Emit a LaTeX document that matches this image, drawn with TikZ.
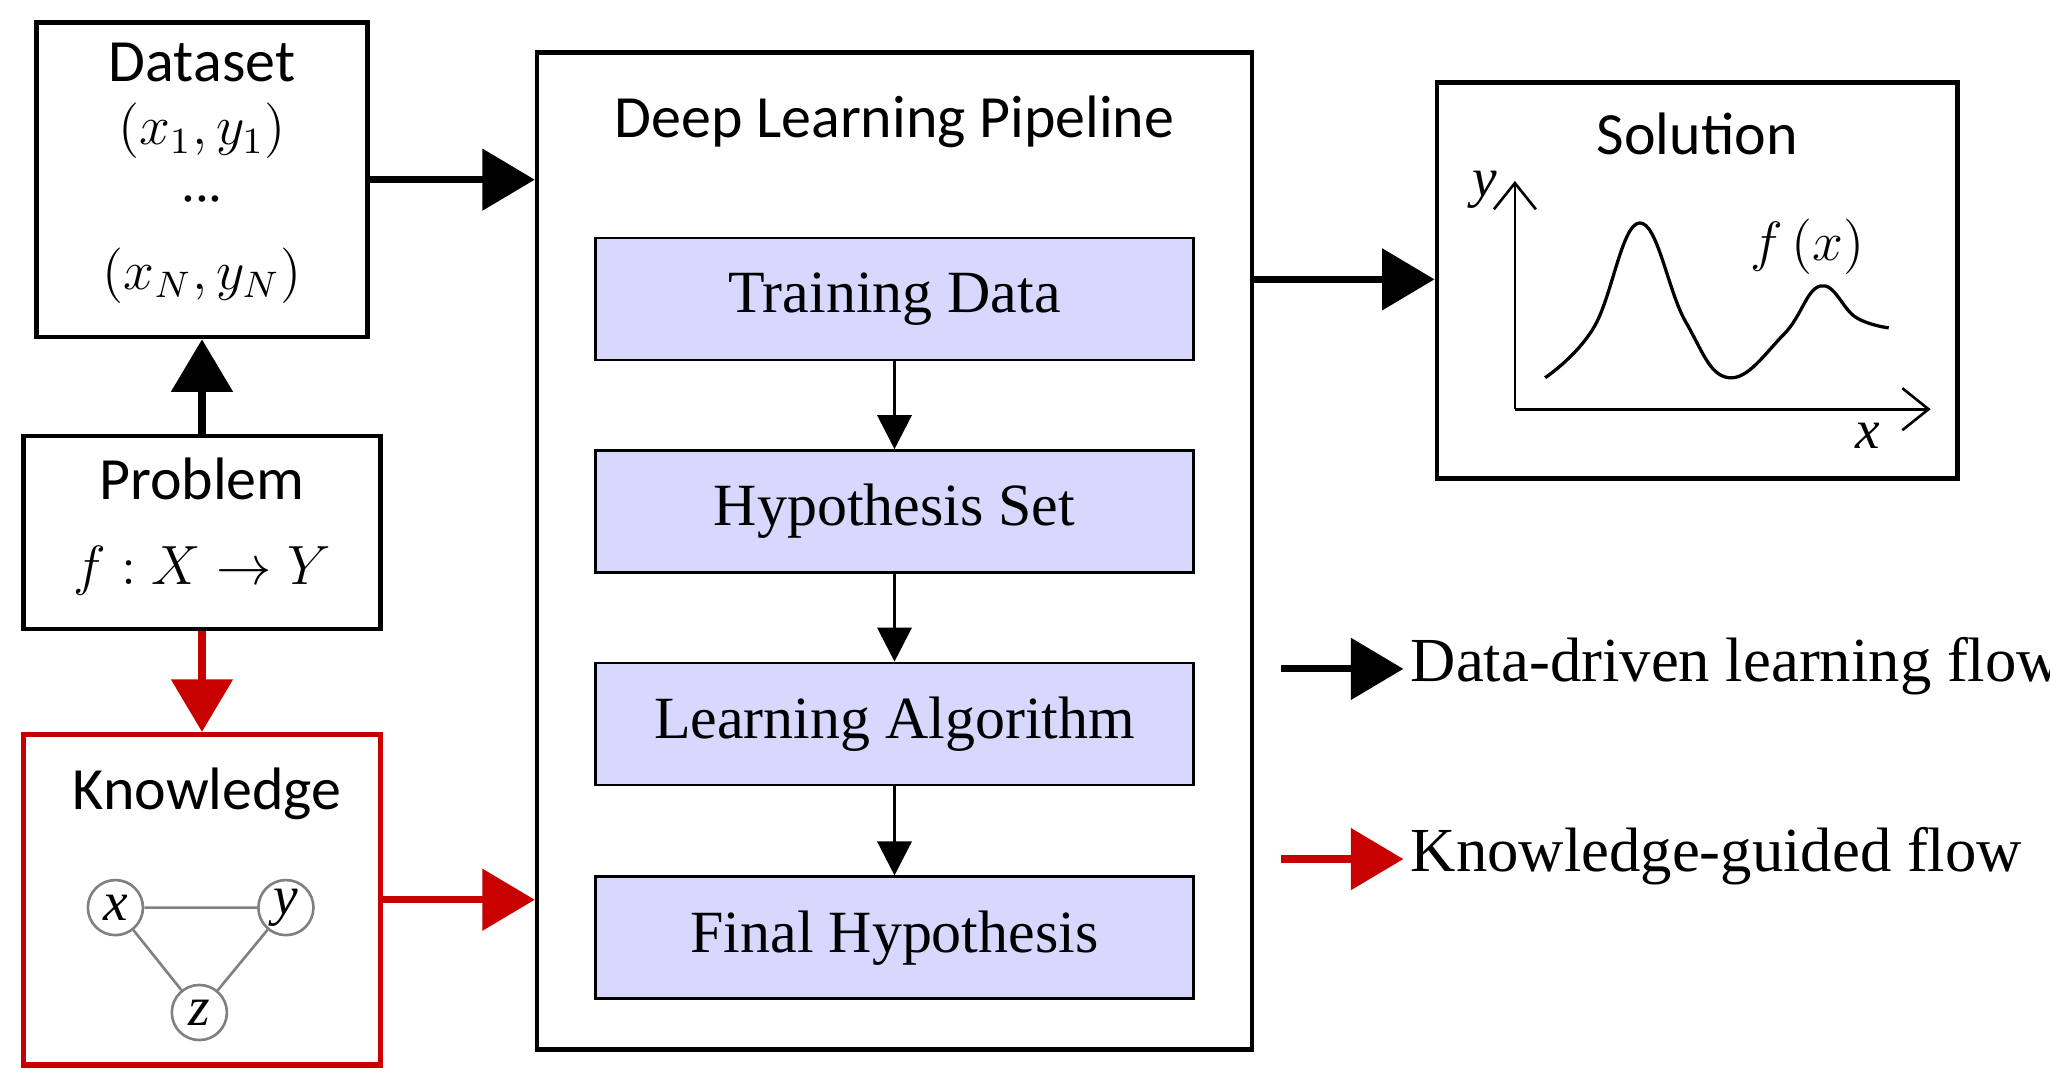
\documentclass[tikz,border=0pt]{standalone}
\usepackage{fontspec}
\setmainfont{Liberation Serif}
\newfontfamily\carlitofont{Carlito}
\usetikzlibrary{arrows.meta}
\definecolor{lav}{RGB}{216,216,255}
\definecolor{kred}{RGB}{200,0,0}
\begin{document}
\begin{tikzpicture}[x=0.1mm,y=-0.1mm,
 box/.style={draw,line width=0.35mm},
 inner/.style={draw,line width=0.2mm,fill=lav,minimum width=45.6mm,minimum height=9.3mm,font=\fontsize{13}{15}\selectfont},
 big/.style={line width=0.55mm,-{Triangle[length=4mm,width=4.6mm]}},
 thin/.style={line width=0.25mm,-{Triangle[length=2.6mm,width=2.6mm]}},
 sl/.style={font=\carlitofont\fontsize{13}{15}\selectfont},
 mt/.style={font=\fontsize{12}{14}\selectfont},
 gn/.style={circle,draw=gray,line width=0.2mm,minimum size=4.2mm,inner sep=0pt,font=\itshape\fontsize{12}{14}\selectfont}]
\useasboundingbox (0,0) rectangle (1563,829);
% Dataset
\node[box,minimum width=25.2mm,minimum height=24mm] (ds) at (154,137) {};
\node[sl] (dst) at (154,48) {Dataset};
\node[mt] (d1) at (154,100) {$(x_1,y_1)$};
\node[mt] (d2) at (154,152) {...};
\node[mt] (d3) at (154,210) {$(x_N,y_N)$};
% Problem
\node[box,minimum width=27.2mm,minimum height=14.7mm] (pb) at (154,406) {};
\node[sl] (pbt) at (154,365) {Problem};
\node[mt] (pbf) at (154,435) {$f:X\rightarrow Y$};
% Knowledge
\node[draw=kred,line width=0.4mm,minimum width=27.2mm,minimum height=25.2mm] (kn) at (154,686) {};
\node[sl] (knt) at (158,605) {Knowledge};
\node[gn] (gx) at (88,692) {x};
\node[gn] (gy) at (218,692) {y};
\node[gn] (gz) at (152,772) {z};
\draw[gray,line width=0.2mm] (gx)--(gy) (gx)--(gz) (gy)--(gz);
% Pipeline
\node[box,minimum width=54.5mm,minimum height=76mm] (pl) at (682,420) {};
\node[sl] (plt) at (682,93) {Deep Learning Pipeline};
\node[inner] (t1) at (682,228) {Training Data};
\node[inner] (t2) at (682,390) {Hypothesis Set};
\node[inner] (t3) at (682,552) {Learning Algorithm};
\node[inner] (t4) at (682,715) {Final Hypothesis};
\draw[thin] (t1)--(t2); \draw[thin] (t2)--(t3); \draw[thin] (t3)--(t4);
% Solution
\node[box,minimum width=39.7mm,minimum height=30.2mm] (so) at (1294,214) {};
\node[sl] (sot) at (1294,102) {Solution};
\coordinate (o) at (1155,312);
\coordinate (ye) at (1155,138);
\coordinate (xe) at (1472,312);
\draw[line width=0.2mm,-{Straight Barb[length=2mm,width=3.2mm]}] (o)--(ye);
\draw[line width=0.2mm,-{Straight Barb[length=2mm,width=3.2mm]}] (o)--(xe);
\node[font=\itshape\fontsize{12}{14}\selectfont] (yl) at (1132,145) {y};
\node[font=\itshape\fontsize{12}{14}\selectfont] (xl) at (1424,332) {x};
\node[mt] (fl) at (1378,188) {$f\,(x)$};
\draw[line width=0.25mm] plot[smooth,tension=0.7] coordinates {(1178,288) (1215,250) (1250,170) (1285,245) (1318,288) (1360,255) (1388,218) (1415,242) (1440,250)};
% arrows
\draw[big] (pb.north)--(ds.south);
\draw[big,kred] (pb.south)--(kn.north);
\draw[big] (ds.east|-0,137)--(pl.west|-0,137);
\draw[big,kred] (kn.east|-0,686)--(pl.west|-0,686);
\draw[big] (pl.east|-0,213)--(so.west|-0,213);
% legend
\coordinate (l1a) at (977,510); \coordinate (l1b) at (1070,510);
\coordinate (l2a) at (977,655); \coordinate (l2b) at (1070,655);
\draw[big] (l1a)--(l1b);
\draw[big,kred] (l2a)--(l2b);
\node[anchor=west,font=\fontsize{13.6}{16}\selectfont,inner sep=0pt] (lt1) at (1075,508) {Data-driven learning flow};
\node[anchor=west,font=\fontsize{13.6}{16}\selectfont,inner sep=0pt] (lt2) at (1075,653) {Knowledge-guided flow};
\end{tikzpicture}
\end{document}
